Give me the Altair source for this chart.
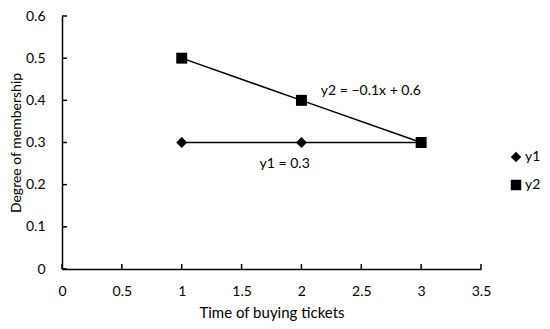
import altair as alt
import pandas as pd

x_vals = [1, 2, 3]
y1_vals = [0.3, 0.3, 0.3]
y2_vals = [0.5, 0.4, 0.3]
series = ["y1", "y2"]
x_ticks = [0, 0.5, 1, 1.5, 2, 2.5, 3, 3.5]
y_ticks = [0, 0.1, 0.2, 0.3, 0.4, 0.5, 0.6]
ann_text = ["y2 = \u22120.1x + 0.6", "y1 = 0.3"]
ann_x = [2.58, 1.86]
ann_y = [0.423, 0.248]

W, H = 419, 253
FONT = "Lato"

df = pd.DataFrame({
    "x": x_vals * 2,
    "y": y1_vals + y2_vals,
    "s": [series[0]] * 3 + [series[1]] * 3,
})
ann = pd.DataFrame({"t": ann_text, "x": ann_x, "y": ann_y})
xt = pd.DataFrame({"v": x_ticks})
yt = pd.DataFrame({"v": y_ticks})

xs = alt.Scale(domain=[0, 3.5], nice=False, zero=False)
ys = alt.Scale(domain=[0, 0.6], nice=False, zero=False)

xaxis = alt.Axis(values=x_ticks, title="Time of buying tickets", labelPadding=15,
                 titlePadding=7, format="~g", labelFlush=False)
yaxis = alt.Axis(values=y_ticks, title="Degree of membership", labelPadding=17,
                 titlePadding=2, titleFontSize=14, format="~g", labelFlush=False)

base = alt.Chart(df)
lines = base.mark_line(color="black", strokeWidth=1.5).encode(
    x=alt.X("x:Q", scale=xs, axis=xaxis),
    y=alt.Y("y:Q", scale=ys, axis=yaxis),
    detail="s:N",
)
points = base.mark_point(filled=True, opacity=1, size=120).encode(
    x=alt.X("x:Q", scale=xs),
    y=alt.Y("y:Q", scale=ys),
    shape=alt.Shape("s:N", scale=alt.Scale(domain=series, range=["diamond", "square"]),
                    legend=alt.Legend(title=None, orient="none", legendX=447, legendY=134,
                                      symbolFillColor="black", symbolStrokeColor="black",
                                      symbolOpacity=1, symbolSize=110, labelFontSize=14,
                                      labelOffset=2, rowPadding=10, labelFont=FONT,
                                      labelColor="black")),
    color=alt.value("black"),
)
texts = alt.Chart(ann).mark_text(font=FONT, fontSize=14, color="black").encode(
    x=alt.X("x:Q", scale=xs), y=alt.Y("y:Q", scale=ys), text="t:N")

xtick = alt.Chart(xt).mark_rule(color="black", strokeWidth=1.5).encode(
    x=alt.X("v:Q", scale=xs), y=alt.value(H), y2=alt.value(H - 5))
ytick = alt.Chart(yt).mark_rule(color="black", strokeWidth=1.5).encode(
    y=alt.Y("v:Q", scale=ys), x=alt.value(0), x2=alt.value(5))

chart = alt.layer(lines, points, texts, xtick, ytick).properties(
    width=W, height=H,
    autosize=alt.AutoSizeParams(type="none"),
    padding={"left": 54, "top": 8, "right": 61, "bottom": 52},
).configure_axis(
    grid=False, ticks=False, domainColor="black", domainWidth=1.5,
    labelFont=FONT, titleFont=FONT, labelFontSize=14, titleFontSize=15,
    labelColor="black", titleColor="black", titleFontWeight="normal",
).configure_view(stroke=None)

chart.save("out.html", embed_options={"renderer": "svg", "actions": False})
